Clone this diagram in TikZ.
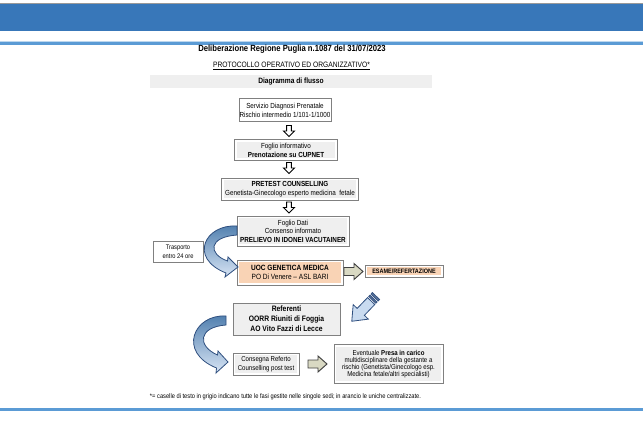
\documentclass[tikz,border=0pt]{standalone}
\usepackage{fontspec}
\setmainfont{Liberation Sans}[FakeStretch=0.86]
\definecolor{bandblue}{HTML}{3877B9}
\definecolor{lineblue}{HTML}{5B9BD5}
\definecolor{boxgray}{HTML}{808080}
\definecolor{innergray}{HTML}{EFEFEF}
\definecolor{orangefill}{HTML}{F9D3B5}
\definecolor{olivefill}{HTML}{D9D9C3}
\definecolor{arrowblue}{HTML}{C9DBF0}
\definecolor{arrowdark}{HTML}{2F4F7F}
\definecolor{curvetop}{HTML}{4E7DAD}
\definecolor{curvebot}{HTML}{D8E5F5}
\newcommand\fsz[2]{\fontsize{#1}{#2}\selectfont}
\tikzset{
  gbox/.style={draw=boxgray, line width=0.75pt, fill=white, inner sep=0pt, align=center},
  ginner/.style={path picture={\fill[#1] ([shift={(1.6pt,-1.6pt)}]path picture bounding box.north west) rectangle ([shift={(-1.6pt,1.6pt)}]path picture bounding box.south east);}},
  downarrow/.pic={\draw[line width=0.7pt, fill=white] (0,-2.4)--(5.5,-2.4)--(5.5,-5.5)--(11,0)--(5.5,5.5)--(5.5,2.4)--(0,2.4)--cycle;},
  rightarrow/.pic={\draw[line width=0.7pt, draw=black!75, fill=olivefill] (0,-4)--(10,-4)--(10,-8)--(19,0)--(10,8)--(10,4)--(0,4)--cycle;},
  curvearrow/.style={draw=arrowdark, line width=0.6pt, top color=curvetop, bottom color=curvebot}
}
\begin{document}
\begin{tikzpicture}[x=0.75pt,y=-0.75pt]
\useasboundingbox (0,0) rectangle (643,428);
% header band
\fill[bandblue] (0,3) rectangle (643,31.5);
\draw[black!40, line width=0.4pt] (0,3) -- (643,3);
\fill[lineblue] (0,42.5) rectangle (643,45.5);
\fill[lineblue!40] (0,41) rectangle (643,42.5);
% bottom line
\fill[lineblue] (0,408) rectangle (643,411);
% titles
\node[font=\fsz{6.7}{8}\bfseries] (title) at (292,49) {Deliberazione Regione Puglia n.1087 del 31/07/2023};
\node[font=\fsz{5.85}{7}] (proto) at (291.5,66) {\underline{PROTOCOLLO OPERATIVO ED ORGANIZZATIVO*}};
\fill[innergray] (150,75) rectangle (432,88);
\node[font=\fsz{5.8}{7}\bfseries] (diag) at (291,81.5) {Diagramma di flusso};
% boxes
\node[gbox, minimum width=92*.75pt, minimum height=23*.75pt, font=\fsz{5.5}{6.8}] (b1) at (285,110.5)
  {Servizio Diagnosi Prenatale\\Rischio intermedio 1/101-1/1000};
\node[gbox, ginner=innergray, minimum width=103*.75pt, minimum height=20*.75pt, font=\fsz{5.5}{6.8}] (b2) at (286,150)
  {Foglio informativo\\\textbf{Prenotazione su CUPNET}};
\node[gbox, ginner=innergray, minimum width=137*.75pt, minimum height=22*.75pt, font=\fsz{5.5}{7}] (b3) at (290,189)
  {\textbf{PRETEST COUNSELLING}\\Genetista-Ginecologo esperto medicina \ fetale};
\node[gbox, ginner=innergray, minimum width=112*.75pt, minimum height=30*.75pt, font=\fsz{5.5}{6.4}] (b4) at (293,231)
  {Foglio Dati\\Consenso informato\\\textbf{PRELIEVO IN IDONEI VACUTAINER}};
\node[gbox, minimum width=50*.75pt, minimum height=21*.75pt, font=\fsz{5}{6.4}] (tr) at (178,251.5)
  {Trasporto\\entro 24 ore};
\node[gbox, ginner=orangefill, minimum width=106*.75pt, minimum height=25*.75pt, font=\fsz{5.7}{7}] (b5) at (290,272.5)
  {\textbf{UOC GENETICA MEDICA}\\PO Di Venere -- ASL BARI};
\node[gbox, ginner=orangefill, minimum width=78*.75pt, minimum height=12*.75pt, font=\fsz{4.8}{6}\bfseries] (b6) at (404,271)
  {ESAME/REFERTAZIONE};
\node[gbox, fill=innergray, minimum width=107*.75pt, minimum height=32*.75pt, font=\fsz{5.9}{7.5}\bfseries] (b7) at (286.5,319)
  {Referenti\\OORR Riuniti di Foggia\\AO Vito Fazzi di Lecce};
\node[gbox, ginner=innergray, minimum width=66*.75pt, minimum height=22*.75pt, font=\fsz{5.3}{6.8}] (b8) at (266,364)
  {Consegna Referto\\Counselling post test};
\node[gbox, ginner=innergray, minimum width=109*.75pt, minimum height=39*.75pt, font=\fsz{5.3}{5.1}] (b9) at (388.5,364)
  {Eventuale \textbf{Presa in carico}\\multidisciplinare della gestante a\\rischio (Genetista/Ginecologo esp.\\Medicina fetale/altri specialisti)};
% down arrows
\pic[rotate=-90] at (289,125.5) {downarrow};
\pic[rotate=-90] at (289,162.5) {downarrow};
\pic[rotate=-90] at (289,202) {downarrow};
% right arrows
\pic at (344,271.5) {rightarrow};
\pic at (308,364) {rightarrow};
% diagonal striped arrow
\begin{scope}[shift={(376,296)}, rotate=226.2]
  \filldraw[draw=arrowdark, fill=arrowdark!80, line width=0.5pt] (0,-5) rectangle (2.2,5);
  \filldraw[draw=arrowdark, fill=arrowdark!80, line width=0.5pt] (3.6,-5) rectangle (5.4,5);
  \filldraw[draw=arrowdark, fill=arrowblue, line width=0.6pt]
    (7,-5) -- (22,-5) -- (22,-10.5) -- (35,0) -- (22,10.5) -- (22,5) -- (7,5) -- cycle;
\end{scope}
% curved arrow 1 (b4 -> b5)
\path[curvearrow]
  (237,226) .. controls (205,224) and (188,258) .. (226,273)
  -- (225,277) -- (238,267) -- (228,257) -- (227.5,261)
  .. controls (208,254) and (208,237) .. (237,235) -- cycle;
% curved arrow 2 (b7 -> b8)
\path[curvearrow]
  (226,316) .. controls (194,314) and (177,352) .. (216.5,368)
  -- (216,373) -- (228,362) -- (218,351) -- (217.5,355)
  .. controls (197,346) and (198,327) .. (226,325) -- cycle;
% footnote
\node[font=\fsz{5}{6}] (foot) at (285.5,397) {*= caselle di testo in grigio indicano tutte le fasi gestite nelle singole sedi; in arancio le uniche centralizzate.};
\end{tikzpicture}
\end{document}
